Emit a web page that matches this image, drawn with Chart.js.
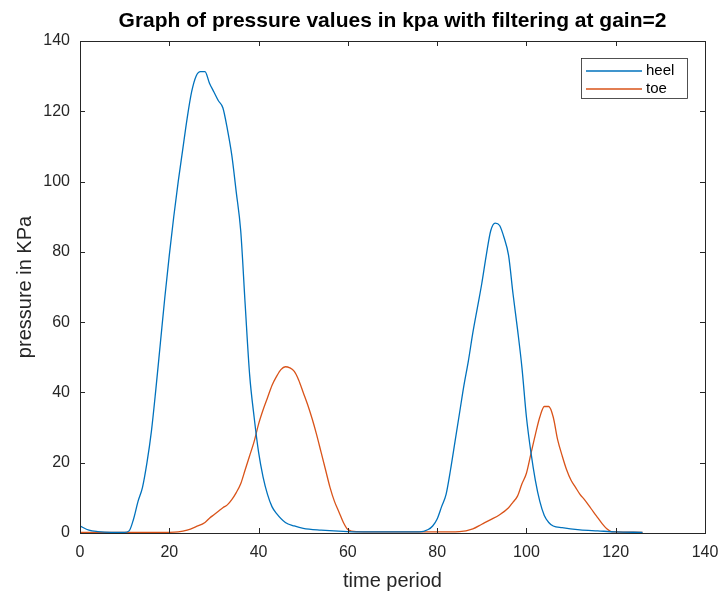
<!DOCTYPE html>
<html>
<head>
<meta charset="utf-8">
<script src="https://cdn.jsdelivr.net/npm/chart.js@4/dist/chart.umd.min.js"></script>
<style>
    html, body { margin: 0; padding: 0; background: #fff; }
    #wrap { width: 723px; height: 597px; }
</style>
</head>
<body>
<div id="wrap"><canvas id="pressureChart"></canvas></div>
<script>
// values
const heelTime = [0, 2, 4, 7, 10, 11, 12, 13, 14, 15, 16, 17, 18, 19, 20, 21, 22, 23, 24, 25, 26, 27, 28, 29, 30, 31, 32, 33, 34, 35, 36, 37, 38, 39, 40, 41, 42, 43, 44, 46, 48, 50, 54, 60, 66, 72, 76, 78, 79, 80, 81, 82, 83, 84, 85, 86, 87, 88, 89, 90, 91, 92, 93, 94, 95, 96, 97, 98, 99, 100, 101, 102, 103, 104, 105, 106, 108, 112, 116, 120, 126];
const heelKpa = [2.0, 0.8, 0.4, 0.2, 0.2, 0.6, 4, 9, 13, 20, 29, 41, 54, 67, 79, 90, 100, 109, 118, 125.5, 130, 131.3, 131.3, 128, 125.5, 123, 121, 115, 107.5, 97, 86, 65, 45, 33, 23, 16, 11, 7.5, 5.6, 3, 2, 1.3, 0.8, 0.4, 0.3, 0.3, 0.3, 1, 2, 4, 7.5, 11, 18, 26, 34, 42, 49, 57, 64, 71, 79, 86, 88.2, 87.5, 84, 79, 68, 58, 47, 33, 23, 15, 9, 5, 3, 2, 1.5, 0.9, 0.6, 0.3, 0.2];

const toeTime = [0, 10, 20, 22, 24, 26, 28, 29, 30, 31, 32, 33, 34, 35, 36, 37, 38, 39, 40, 41, 42, 43, 44, 45, 46, 47, 48, 49, 50, 51, 52, 53, 54, 55, 56, 57, 58, 59, 60, 62, 70, 80, 85, 88, 90, 92, 94, 96, 97, 98, 99, 100, 101, 102, 103, 104, 105, 106, 107, 108, 109, 110, 111, 112, 113, 114, 115, 116, 117, 118, 119, 120, 126];
const toeKpa = [0.2, 0.2, 0.2, 0.3, 0.8, 1.8, 3, 4.2, 5.2, 6.2, 7.2, 8, 9.5, 11.5, 14, 18, 22, 26, 31, 35, 38.5, 42, 44.5, 46.5, 47.3, 47, 46, 43.5, 40, 36.5, 32.5, 28, 23, 18, 13, 9, 6, 3, 1, 0.4, 0.3, 0.3, 0.4, 1.2, 2.5, 3.8, 5.2, 7.2, 8.8, 10.5, 14, 17, 22.5, 28, 33, 36, 36, 33, 26.5, 22, 18, 15, 13, 11, 9.5, 7.8, 6, 4.3, 2.6, 1.2, 0.4, 0.3, 0.2];

const axisTicks = [0, 20, 40, 60, 80, 100, 120, 140];

const HEEL_COLOR = "#0072BD";
const TOE_COLOR = "#D95319";
const AXIS_COLOR = "#262626";
const FONT = "'Liberation Sans', Arial, sans-serif";

function toPoints(xs, ys) {
    return xs.map((x, i) => ({ x: x, y: ys[i] }));
}

// box around the axes with inward ticks, matlab style
const boxPlugin = {
    id: "matlabBox",
    afterDraw(chart) {
        const ctx = chart.ctx;
        const area = chart.chartArea;
        const xs = chart.scales.x;
        const ys = chart.scales.y;
        const tickLen = 5;
        ctx.save();
        ctx.strokeStyle = AXIS_COLOR;
        ctx.lineWidth = 1;
        ctx.strokeRect(area.left + 0.5, area.top + 0.5, area.right - area.left, area.bottom - area.top);
        ctx.beginPath();
        axisTicks.forEach(v => {
            const px = Math.round(xs.getPixelForValue(v)) + 0.5;
            ctx.moveTo(px, area.bottom);
            ctx.lineTo(px, area.bottom - tickLen);
            ctx.moveTo(px, area.top);
            ctx.lineTo(px, area.top + tickLen);
            const py = Math.round(ys.getPixelForValue(v)) + 0.5;
            ctx.moveTo(area.left, py);
            ctx.lineTo(area.left + tickLen, py);
            ctx.moveTo(area.right, py);
            ctx.lineTo(area.right - tickLen, py);
        });
        ctx.stroke();

        // legend box in upper right corner
        const lx = 581, ly = 58, lw = 106, lh = 40;
        ctx.fillStyle = "#fff";
        ctx.fillRect(lx, ly, lw, lh);
        ctx.lineWidth = 0.8;
        ctx.strokeRect(lx + 0.5, ly + 0.5, lw, lh);
        ctx.font = "15px " + FONT;
        ctx.textBaseline = "middle";
        ctx.textAlign = "left";
        chart.data.datasets.forEach((ds, i) => {
            const y = ly + 13 + i * 18;
            ctx.strokeStyle = ds.borderColor;
            ctx.lineWidth = 1.3;
            ctx.beginPath();
            ctx.moveTo(lx + 5, y);
            ctx.lineTo(lx + 61, y);
            ctx.stroke();
            ctx.fillStyle = "#000";
            ctx.fillText(ds.label, lx + 65, y);
        });
        ctx.restore();
    }
};

const ctx = document.getElementById("pressureChart").getContext("2d");
new Chart(ctx, {
    type: "line",
    data: {
        datasets: [{
            label: "heel",
            data: toPoints(heelTime, heelKpa),
            borderColor: HEEL_COLOR,
            borderWidth: 1.3,
            pointRadius: 0,
            cubicInterpolationMode: "monotone",
            fill: false
        }, {
            label: "toe",
            data: toPoints(toeTime, toeKpa),
            borderColor: TOE_COLOR,
            borderWidth: 1.3,
            pointRadius: 0,
            cubicInterpolationMode: "monotone",
            fill: false
        }]
    },
    options: {
        responsive: true,
        maintainAspectRatio: false,
        animation: false,
        layout: { padding: { top: 0, right: 18, left: 0, bottom: 0 } },
        plugins: {
            legend: { display: false },
            tooltip: { enabled: false },
            title: {
                display: true,
                fullSize: false,
                text: "Graph of pressure values in kpa with filtering at gain=2",
                color: "#000",
                font: { family: FONT, size: 21, weight: "bold" },
                padding: { top: 9, bottom: 6.8 }
            }
        },
        scales: {
            x: {
                type: "linear",
                min: 0,
                max: 140,
                afterFit: s => { s.height = 64; s.paddingLeft = 0; s.paddingRight = 0; },
                grid: { display: false, drawTicks: false },
                border: { display: false },
                ticks: {
                    stepSize: 20,
                    padding: 10,
                    color: AXIS_COLOR,
                    maxRotation: 0,
                    font: { family: FONT, size: 16 }
                },
                title: {
                    display: true,
                    text: "time period",
                    color: AXIS_COLOR,
                    padding: { top: 0, bottom: 4 },
                    font: { family: FONT, size: 20 }
                }
            },
            y: {
                min: 0,
                max: 140,
                afterFit: s => { s.width = 80; s.paddingTop = 0; s.paddingBottom = 0; },
                grid: { display: false, drawTicks: false },
                border: { display: false },
                ticks: {
                    stepSize: 20,
                    padding: 10,
                    color: AXIS_COLOR,
                    font: { family: FONT, size: 16 }
                },
                title: {
                    display: true,
                    text: "pressure in KPa",
                    color: AXIS_COLOR,
                    padding: { top: 13, bottom: 0 },
                    font: { family: FONT, size: 20 }
                }
            }
        }
    },
    plugins: [boxPlugin]
});
</script>
</body>
</html>
